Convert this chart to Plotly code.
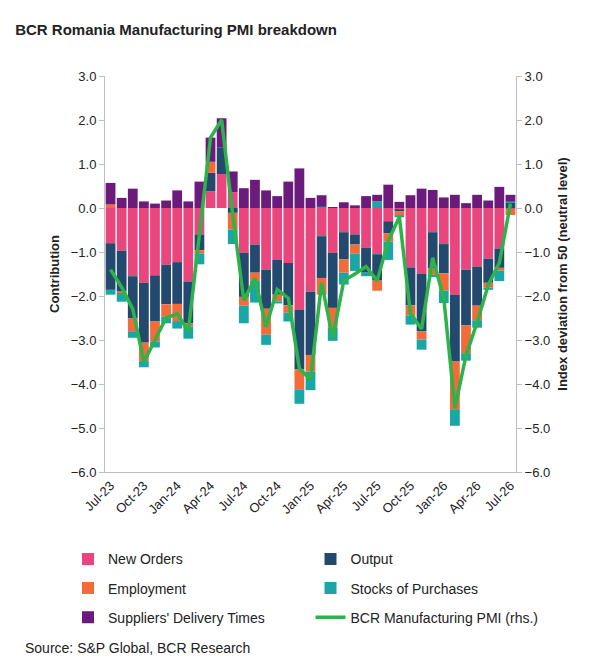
import plotly.graph_objects as go

months = ['Jul-23', 'Aug-23', 'Sep-23', 'Oct-23', 'Nov-23', 'Dec-23',
          'Jan-24', 'Feb-24', 'Mar-24', 'Apr-24', 'May-24', 'Jun-24',
          'Jul-24', 'Aug-24', 'Sep-24', 'Oct-24', 'Nov-24', 'Dec-24',
          'Jan-25', 'Feb-25', 'Mar-25', 'Apr-25', 'May-25', 'Jun-25',
          'Jul-25', 'Aug-25', 'Sep-25', 'Oct-25', 'Nov-25', 'Dec-25',
          'Jan-26', 'Feb-26', 'Mar-26', 'Apr-26', 'May-26', 'Jun-26',
          'Jul-26']

new_orders = [-0.80, -0.97, -1.55, -1.70, -1.53, -1.29, -1.23, -1.67, -0.60,
              0.38, 0.77, 0.36, -1.02, -0.83, -1.40, -1.17, -1.25, -2.31,
              -1.90, -0.64, -1.02, -0.55, -0.60, -0.90, -1.05, -0.30, -0.03,
              -1.35, -1.50, -0.55, -0.82, -1.97, -1.40, -1.33, -1.15, -0.92,
              -0.02]
output = [-1.06, -0.92, -0.96, -1.36, -1.05, -0.90, -0.95, -0.95, -0.36,
          0.42, 0.60, -0.11, -1.00, -0.64, -0.89, -0.80, -0.96, -1.36,
          -1.44, -0.95, -1.25, -0.62, -0.23, -0.57, -0.60, -0.27, -0.05,
          -0.86, -1.30, -0.82, -0.66, -1.52, -1.27, -0.89, -0.55, -0.44,
          0.12]
employment = [0.08, -0.04, -0.29, -0.42, -0.45, -0.28, -0.39, -0.07, -0.08,
              0.25, 0.00, -0.38, -0.20, -0.19, -0.59, -0.15, -0.17, -0.45,
              -0.38, -0.38, -0.45, -0.30, -0.21, 0.00, -0.23, -0.19, -0.08,
              -0.23, -0.19, -0.15, -0.40, -1.10, -0.63, -0.33, -0.11, -0.06,
              -0.14]
stocks = [-0.11, -0.20, -0.15, -0.14, -0.14, -0.15, -0.17, -0.28, -0.24,
          0.00, 0.00, -0.33, -0.40, -0.49, -0.23, -0.05, -0.20, -0.33,
          -0.42, 0.03, -0.30, -0.27, -0.39, -0.08, 0.15, -0.42, -0.05,
          -0.21, -0.23, -0.05, -0.28, -0.36, -0.17, -0.17, -0.05, -0.24,
          0.03]
suppliers = [0.49, 0.23, 0.44, 0.15, 0.10, 0.17, 0.40, 0.15, 0.60,
             0.55, 0.67, 0.47, 0.45, 0.64, 0.40, 0.27, 0.60, 0.90,
             0.23, 0.26, 0.02, 0.13, 0.06, 0.27, 0.15, 0.53, 0.14,
             0.29, 0.44, 0.41, 0.24, 0.30, 0.11, 0.30, 0.17, 0.48,
             0.15]
pmi = [-1.4, -1.8, -2.3, -3.5, -3.0, -2.5, -2.4, -2.8, -0.6,
       1.6, 2.0, -0.15, -2.1, -1.6, -2.7, -1.85, -2.05, -3.65,
       -3.9, -1.7, -2.95, -1.65, -1.5, -1.33, -1.65, -0.75, -0.2,
       -2.4, -2.75, -1.13, -2.05, -4.55, -3.35, -2.6, -1.75, -1.25,
       0.1]

tick_months = months[::3]

# (name, values, colour, legend column)
series = [
    ('New Orders', new_orders, '#E8467C', 'legend'),
    ('Output', output, '#234A6E', 'legend2'),
    ('Employment', employment, '#F26B38', 'legend'),
    ('Stocks of Purchases', stocks, '#1AA6A6', 'legend2'),
    ("Suppliers' Delivery Times", suppliers, '#6A1B7C', 'legend'),
]

fig = go.Figure()
for name, vals, color, leg in series:
    fig.add_trace(go.Bar(x=months, y=vals, name=name, marker_color=color,
                         marker_line_width=0, legend=leg, legendgroup=name))

fig.add_trace(go.Scatter(
    x=months, y=pmi, name='BCR Manufacturing PMI (rhs.)', yaxis='y2',
    mode='lines', line=dict(color='#2DB34A', width=3.5),
    legend='legend2', legendgroup='pmi'
))

axis_common = dict(
    range=[-6, 3], dtick=1, tickformat='.1f', showgrid=False,
    zeroline=False, showline=True, linecolor='#BFBFBF', ticks='outside',
    tickcolor='#BFBFBF', tickfont=dict(size=13, color='#222')
)

legend_common = dict(
    yanchor='top', xanchor='left', y=-0.18, tracegroupgap=8,
    font=dict(size=14, color='#222'), bgcolor='rgba(0,0,0,0)'
)

fig.update_layout(
    width=600, height=659,
    barmode='relative', bargap=0.12,
    plot_bgcolor='white', paper_bgcolor='white',
    font=dict(family='Arial, Liberation Sans, sans-serif', color='#222'),
    title=dict(text='<b>BCR Romania Manufacturing PMI breakdown</b>',
               x=0.012, y=0.975, xanchor='left', font=dict(size=15)),
    margin=dict(l=97, r=92, t=68, b=195),
    xaxis=dict(tickvals=tick_months, tickangle=-45, showline=True,
               linecolor='#BFBFBF', tickfont=dict(size=13, color='#222')),
    yaxis=dict(title=dict(text='<b>Contribution</b>', font=dict(size=13),
                          standoff=8), **axis_common),
    yaxis2=dict(overlaying='y', side='right',
                title=dict(text='<b>Index deviation from 50 (neutral level)</b>',
                           font=dict(size=13), standoff=8), **axis_common),
    legend=dict(x=-0.09, **legend_common),
    legend2=dict(x=0.5, **legend_common),
)

fig.add_annotation(text='Source: S&P Global, BCR Research', xref='paper',
                   yref='paper', x=-0.2, y=-0.42, xanchor='left',
                   yanchor='top', showarrow=False,
                   font=dict(size=14, color='#222'))

fig.write_html('out.html')
